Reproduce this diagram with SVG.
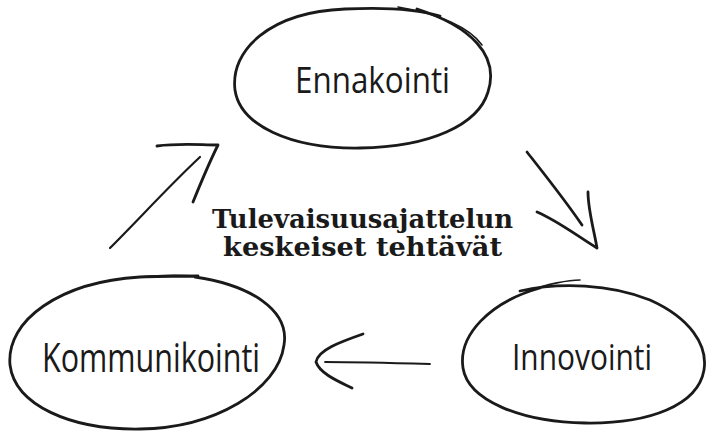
<svg xmlns="http://www.w3.org/2000/svg" width="706" height="434" viewBox="0 0 706 434">
<style>
.sk{fill:none;stroke:#1a1a1a;stroke-linecap:round;stroke-linejoin:round}
.lbl{font-family:"Open Sans","DejaVu Sans",sans-serif;font-weight:400;fill:#1a1a1a;text-anchor:start}
.ttl{font-family:"DejaVu Serif","Liberation Serif",serif;font-weight:bold;fill:#1a1a1a}
</style>
<rect width="706" height="434" fill="#fff"/>
<g id="ennakointi">
<path class="sk" stroke-width="2.8" d="M417,9 C470,26 500,55 488,92 C478,125 430,147 360,148 C290,149 240,125 235,90 C230,50 270,12 345,9 C385,7 420,10 440,16"/>
<path class="sk" stroke-width="1.6" d="M398,7 C440,14 470,28 482,45"/>
<text class="lbl" x="295" y="93" font-size="37" textLength="155" lengthAdjust="spacingAndGlyphs">Ennakointi</text>
</g>
<g id="kommunikointi">
<path class="sk" stroke-width="2.8" d="M195,277 C250,285 290,310 284,345 C278,390 215,428 140,429 C70,430 15,405 10,365 C6,320 60,282 140,277 C160,276 180,276 198,276"/>
<path class="sk" stroke-width="1.4" d="M140,277 C160,275 180,275 197,276"/>
<text class="lbl" x="42" y="372" font-size="40" textLength="218" lengthAdjust="spacingAndGlyphs">Kommunikointi</text>
</g>
<g id="innovointi">
<path class="sk" stroke-width="2.8" d="M520,291 C560,282 610,284 650,300 C690,318 708,345 704,370 C698,405 650,424 585,423 C520,422 468,400 463,368 C458,335 490,302 540,288"/>
<path class="sk" stroke-width="1.6" d="M530,291 C545,284 570,280 580,280"/>
<text class="lbl" x="512" y="370" font-size="36" textLength="140" lengthAdjust="spacingAndGlyphs">Innovointi</text>
</g>
<g id="title">
<text class="ttl" x="212" y="228" font-size="26" textLength="301" lengthAdjust="spacingAndGlyphs">Tulevaisuusajattelun</text>
<text class="ttl" x="223" y="256" font-size="26" textLength="279" lengthAdjust="spacingAndGlyphs">keskeiset tehtävät</text>
</g>
<g id="connectors">
<path class="sk" stroke-width="2.2" d="M110,248 C140,218 170,185 200,157"/>
<path class="sk" stroke-width="2.8" d="M157,146 C180,143 200,145 218,145 C208,165 200,185 193,202"/>
<path class="sk" stroke-width="2.8" d="M527,152 C545,175 565,200 582,225"/>
<path class="sk" stroke-width="2.8" d="M537,212 C560,222 580,238 597,248 C594,230 588,210 588,192"/>
<path class="sk" stroke-width="1.8" d="M430,364 C395,363 360,362 325,362"/>
<path class="sk" stroke-width="2.8" d="M363,334 C340,342 318,350 316,362 C320,374 340,382 352,388"/>
</g>
</svg>
